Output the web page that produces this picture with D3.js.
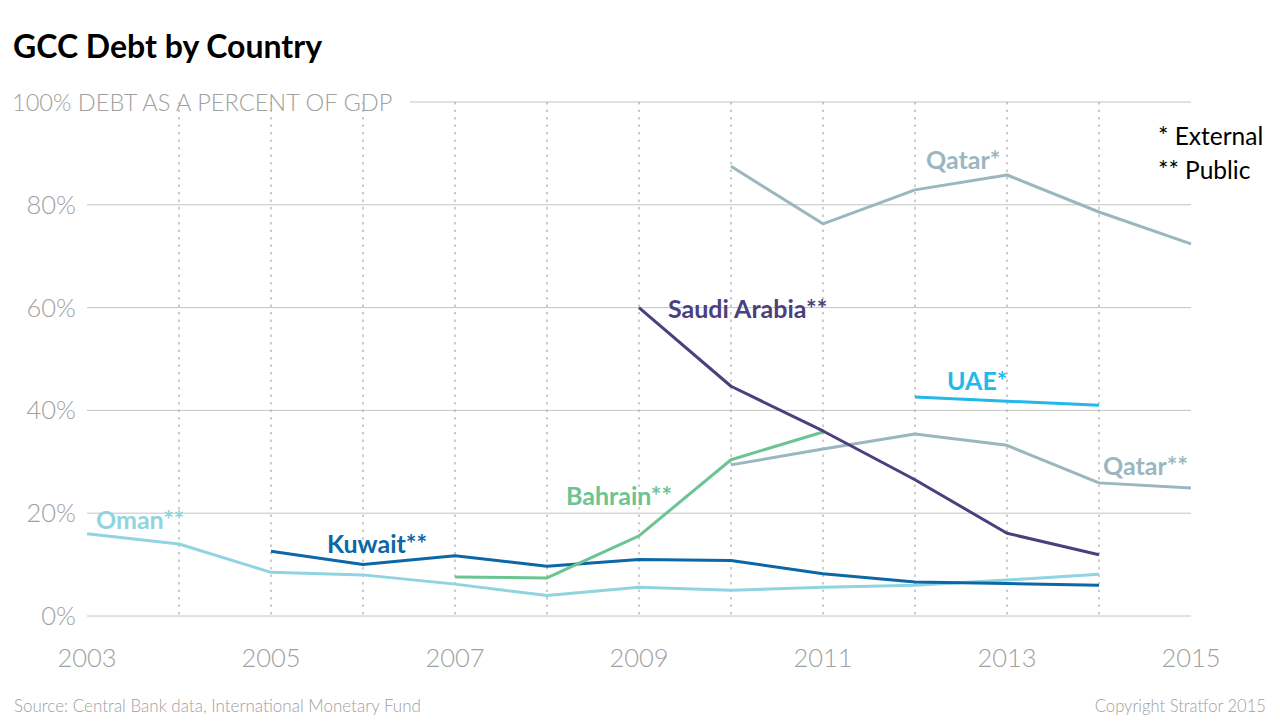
<!DOCTYPE html>
<meta charset="utf-8">
<head>
  <title>GCC Debt by Country</title>
</head>
<style>
body { margin: 0; background: #fff; }
svg text { font-family: Lato, "Open Sans", sans-serif; }
.grid line { stroke: #c4c4c4; stroke-width: 1; }
.vgrid line { stroke: #aaa; stroke-width: 1.2; stroke-dasharray: 2.5, 5; }
.tick-label { fill: #a0a0a0; font-weight: 300; font-size: 25.5px; }
.series { fill: none; stroke-width: 3; stroke-linejoin: round; }
.label { font-weight: 700; font-size: 25px; }
</style>
<body>
<svg width="1280" height="722"></svg>
<script src="https://cdn.jsdelivr.net/npm/d3@7"></script>
<script>
var years = d3.range(2003, 2016);
var xTicks = [2003, 2005, 2007, 2009, 2011, 2013, 2015];
var yTicks = [0, 20, 40, 60, 80];

// debt as % of GDP, [year, value]
var oman = [[2003, 16], [2004, 14], [2005, 8.5], [2006, 8], [2007, 6.2], [2008, 4], [2009, 5.6],
  [2010, 5], [2011, 5.6], [2012, 6], [2013, 7], [2014, 8.1]];
var kuwait = [[2005, 12.6], [2006, 10], [2007, 11.7], [2008, 9.7], [2009, 11], [2010, 10.8],
  [2011, 8.2], [2012, 6.6], [2013, 6.3], [2014, 6]];
var bahrain = [[2007, 7.6], [2008, 7.4], [2009, 15.6], [2010, 30.4], [2011, 35.8]];
var saudi = [[2009, 60], [2010, 44.7], [2011, 36], [2012, 26.5], [2013, 16.1], [2014, 11.9]];
var qatarExt = [[2010, 87.5], [2011, 76.3], [2012, 82.9], [2013, 85.8], [2014, 78.6], [2015, 72.4]];
var qatarPub = [[2010, 29.4], [2011, 32.5], [2012, 35.4], [2013, 33.2], [2014, 25.9], [2015, 24.9]];
var uae = [[2012, 42.6], [2013, 41.8], [2014, 41]];

var series = [
  { name: 'Oman**', data: oman, color: '#8fd4e0', lx: 96, ly: 529 },
  { name: 'Kuwait**', data: kuwait, color: '#0b67a6', lx: 327, ly: 553 },
  { name: 'Bahrain**', data: bahrain, color: '#6cc492', lx: 566, ly: 505 },
  { name: 'Qatar*', data: qatarExt, color: '#9ab7bf', lx: 926, ly: 169 },
  { name: 'Qatar**', data: qatarPub, color: '#9ab7bf', lx: 1103, ly: 475 },
  { name: 'Saudi Arabia**', data: saudi, color: '#4c3f7d', lx: 668, ly: 318 },
  { name: 'UAE*', data: uae, color: '#22b9ea', lx: 947, ly: 390 }
];

var svg = d3.select('svg');
var x = d3.scaleLinear().domain([2003, 2015]).range([87, 1191]);
var y = d3.scaleLinear().domain([0, 100]).range([616, 102]);

// title
svg.append('text').attr('x', 13).attr('y', 58)
  .style('font-size', '32px').style('font-weight', 700).style('fill', '#000')
  .text('GCC Debt by Country');

// horizontal grid
svg.append('g').attr('class', 'grid')
  .selectAll('line').data(yTicks).enter().append('line')
  .attr('x1', x(2003)).attr('x2', x(2015))
  .attr('y1', function(d) { return y(d); }).attr('y2', function(d) { return y(d); });
svg.select('.grid').append('line')
  .attr('x1', 410).attr('x2', x(2015)).attr('y1', y(100)).attr('y2', y(100));

// vertical dotted grid
svg.append('g').attr('class', 'vgrid')
  .selectAll('line').data(years.slice(1, -1)).enter().append('line')
  .attr('x1', function(d) { return x(d); }).attr('x2', function(d) { return x(d); })
  .attr('y1', y(100)).attr('y2', y(0));

// y labels
svg.append('g').selectAll('text').data(yTicks).enter().append('text')
  .attr('class', 'tick-label')
  .attr('x', 76).attr('y', function(d) { return y(d) + 9; })
  .attr('text-anchor', 'end')
  .text(function(d) { return d + '%'; });
svg.append('text').attr('class', 'tick-label')
  .attr('x', 12).attr('y', y(100) + 9)
  .style('font-size', '23.6px')
  .text('100% DEBT AS A PERCENT OF GDP');

// x labels
svg.append('g').selectAll('text').data(xTicks).enter().append('text')
  .attr('class', 'tick-label')
  .attr('x', function(d) { return x(d); }).attr('y', 667)
  .attr('text-anchor', 'middle')
  .text(function(d) { return d; });

// lines
var line = d3.line()
  .x(function(d) { return x(d[0]); })
  .y(function(d) { return y(d[1]); });

svg.append('g').selectAll('path').data(series).enter().append('path')
  .attr('class', 'series')
  .attr('d', function(d) { return line(d.data); })
  .style('stroke', function(d) { return d.color; });

svg.append('g').selectAll('text').data(series).enter().append('text')
  .attr('class', 'label')
  .attr('x', function(d) { return d.lx; }).attr('y', function(d) { return d.ly; })
  .style('fill', function(d) { return d.color; })
  .text(function(d) { return d.name; });

// legend
svg.append('text').attr('x', 1158).attr('y', 145)
  .style('font-size', '24.5px').style('fill', '#000').text('* External');
svg.append('text').attr('x', 1158).attr('y', 179)
  .style('font-size', '24.5px').style('fill', '#000').text('** Public');

// footer
svg.append('text').attr('x', 14).attr('y', 712)
  .style('font-size', '17px').style('fill', '#a0a0a0').style('font-weight', 300)
  .text('Source: Central Bank data, International Monetary Fund');
svg.append('text').attr('x', 1266).attr('y', 712)
  .attr('text-anchor', 'end')
  .style('font-size', '16.6px').style('fill', '#a0a0a0').style('font-weight', 300)
  .text('Copyright Stratfor 2015');
</script>
</body>
</html>
